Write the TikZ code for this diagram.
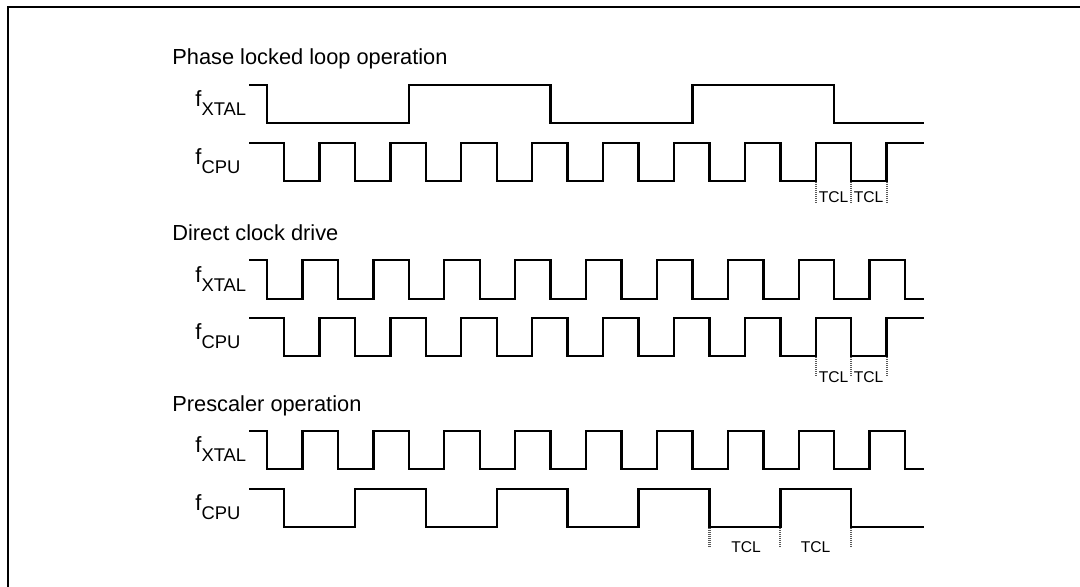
\documentclass[tikz,border=0pt]{standalone}
\usepackage{fontspec}
\setmainfont{Liberation Sans}
\newcommand\fsig[1]{f\raisebox{-4.5pt}{\fontsize{9.2pt}{9.2pt}\selectfont #1}}
\begin{document}
\begin{tikzpicture}[x=0.5pt,y=-0.5pt,
  wave/.style={line width=1.2pt,line join=miter,line cap=rect},
  framel/.style={line width=1.3pt},
  tclmark/.style={black!65,line width=1pt,dash pattern=on 0.5pt off 0.5pt},
  ttl/.style={anchor=base west,inner sep=0pt,font=\fontsize{10.9pt}{12pt}\selectfont},
  sig/.style={anchor=base west,inner sep=0pt,font=\fontsize{11pt}{12pt}\selectfont},
  tcltxt/.style={anchor=base,inner sep=0pt,font=\fontsize{7.8pt}{8pt}\selectfont}]
\useasboundingbox (0,0) rectangle (1080,587);
\def\h{35.45}
% frame
\draw[framel] (8,590) -- (8,7) -- (1085,7);
% ---------------- Phase locked loop operation
\node[ttl] (t1) at (172,65) {Phase locked loop operation};
\node[sig] (l1x) at (195,106.5) {\fsig{XTAL}};
\node[sig] (l1c) at (195,164.5) {\fsig{CPU}};
\draw[wave] (250,85) \foreach \k in {0,1} { -| ({267+8*\k*\h},123) -| ({267+(8*\k+4)*\h},85) } -| ({267+16*\h},123) -- (923,123);
\draw[wave] (250,143) \foreach \k in {0,...,8} { -| ({284+2*\k*\h},181) -| ({284+(2*\k+1)*\h},143) } -- (923,143);
\foreach \k in {15,16,17} \draw[tclmark] ({284+\k*\h},182) -- ({284+\k*\h},204);
\node[tcltxt] (c1a) at (833.5,203) {TCL};
\node[tcltxt] (c1b) at (868.5,203) {TCL};
% ---------------- Direct clock drive
\node[ttl] (t2) at (172,241) {Direct clock drive};
\node[sig] (l2x) at (195,282.5) {\fsig{XTAL}};
\node[sig] (l2c) at (195,339.5) {\fsig{CPU}};
\draw[wave] (250,260) \foreach \k in {0,...,8} { -| ({267+2*\k*\h},299) -| ({267+(2*\k+1)*\h},260) } -| ({267+18*\h},299) -- (923,299);
\draw[wave] (250,318) \foreach \k in {0,...,8} { -| ({284+2*\k*\h},356) -| ({284+(2*\k+1)*\h},318) } -- (923,318);
\foreach \k in {15,16,17} \draw[tclmark] ({284+\k*\h},357) -- ({284+\k*\h},377);
\node[tcltxt] (c2a) at (833.5,382) {TCL};
\node[tcltxt] (c2b) at (868.5,382) {TCL};
% ---------------- Prescaler operation
\node[ttl] (t3) at (172,411) {Prescaler operation};
\node[sig] (l3x) at (195,452.5) {\fsig{XTAL}};
\node[sig] (l3c) at (195,510.5) {\fsig{CPU}};
\draw[wave] (250,431) \foreach \k in {0,...,8} { -| ({267+2*\k*\h},469) -| ({267+(2*\k+1)*\h},431) } -| ({267+18*\h},469) -- (923,469);
\draw[wave] (250,489) \foreach \k in {0,...,3} { -| ({284+4*\k*\h},527) -| ({284+(4*\k+2)*\h},489) } -| ({284+16*\h},527) -- (923,527);
\draw[tclmark,line width=1.4pt] ({284+12*\h},528) -- ({284+12*\h},547);
\foreach \k in {14,16} \draw[tclmark] ({284+\k*\h},528) -- ({284+\k*\h},547);
\node[tcltxt] (c3a) at (746,552) {TCL};
\node[tcltxt] (c3b) at (815.5,552) {TCL};
\end{tikzpicture}
\end{document}
